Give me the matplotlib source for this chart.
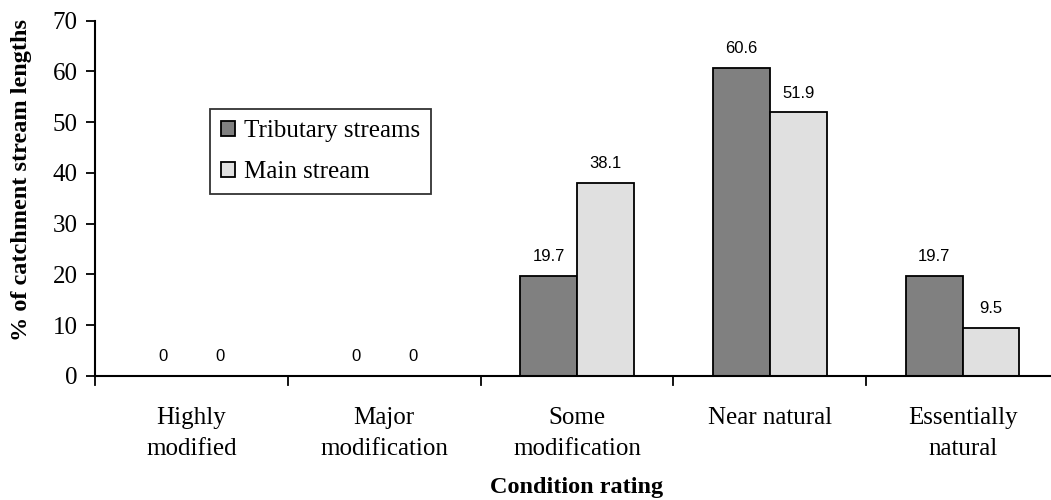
import numpy as np
import matplotlib
matplotlib.use('Agg')
import matplotlib.pyplot as plt

categories = ['Highly\nmodified', 'Major\nmodification', 'Some\nmodification',
              'Near natural', 'Essentially\nnatural']
tributary = [0, 0, 19.7, 60.6, 19.7]
main_stream = [0, 0, 38.1, 51.9, 9.5]
series_names = ['Tributary streams', 'Main stream']
yticks = [0, 10, 20, 30, 40, 50, 60, 70]

serif = ['Liberation Serif', 'DejaVu Serif']
sans = ['Liberation Sans', 'DejaVu Sans']

fig = plt.figure(figsize=(10.51, 5.0), dpi=100)
# axes runs slightly past the right edge of the figure
ax = fig.add_axes([95 / 1051, 124 / 500, 964 / 1051, 355.5 / 500])

x = np.arange(len(categories))
w = 0.295
b1 = ax.bar(x - w / 2, tributary, w, color='#808080', edgecolor='black', linewidth=1.3,
            label=series_names[0])
b2 = ax.bar(x + w / 2, main_stream, w, color='#e0e0e0', edgecolor='black', linewidth=1.3,
            label=series_names[1])

for bars, vals in ((b1, tributary), (b2, main_stream)):
    for r, v in zip(bars, vals):
        ax.annotate('%g' % v, (r.get_x() + r.get_width() / 2, v), xytext=(0, 8.5),
                    textcoords='offset points', ha='center', va='bottom',
                    fontsize=12, family=sans)

ax.set_xlim(-0.5, len(categories) - 0.5)
ax.set_ylim(0, 70)
ax.set_yticks(yticks)
ax.set_yticklabels([str(t) for t in yticks], fontsize=18, family=serif)
ax.set_xticks(np.arange(len(categories) - 1) + 0.5)
ax.set_xticklabels([])
ax.set_xticks(x, minor=True)
ax.set_xticklabels(categories, minor=True, fontsize=18, family=serif, linespacing=1.55)
ax.tick_params(axis='x', which='minor', length=0, pad=22)
ax.tick_params(axis='x', which='major', length=0)
ax.tick_params(axis='y', direction='out', length=6.5, width=1.3, pad=6)

# x ticks cross below the axis line
for t in list(ax.get_xticks()) + [-0.5]:
    ax.plot([t, t], [-1.7, 0], color='black', lw=1.3, clip_on=False)

for s in ['top', 'right']:
    ax.spines[s].set_visible(False)
for s in ['left', 'bottom']:
    ax.spines[s].set_linewidth(1.5)

fig.text(22 / 1051, 1 - 180 / 500, '% of catchment stream lengths', rotation=90,
         ha='center', va='center', fontsize=17.5, family=serif, fontweight='bold')
fig.text(577 / 1051, 0.026, 'Condition rating', ha='center', va='center', fontsize=17.5,
         family=serif, fontweight='bold')

leg = ax.legend(loc='upper left', bbox_to_anchor=((210 - 95) / 964, (376 - 109) / 355.5),
                prop={'family': serif, 'size': 18}, frameon=True, fancybox=False,
                edgecolor='black', handlelength=0.55, handleheight=0.55, handletextpad=0.35,
                borderpad=0.45, labelspacing=0.75, borderaxespad=0)
leg.get_frame().set_linewidth(1.3)

fig.savefig('out.png', dpi=100)
